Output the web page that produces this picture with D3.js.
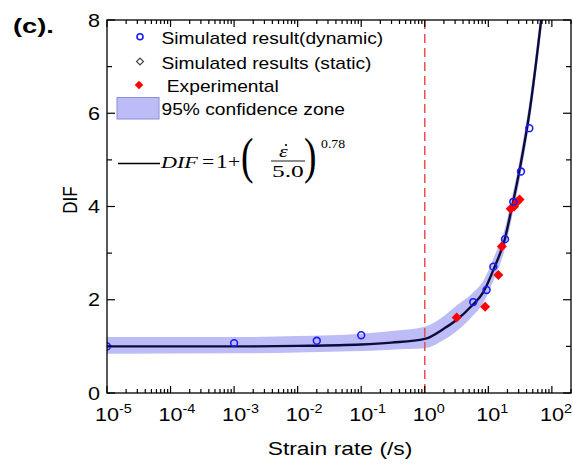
<!DOCTYPE html>
<html>
<head>
<meta charset="utf-8">
<script src="https://cdn.jsdelivr.net/npm/d3@7/dist/d3.min.js"></script>
<style>
body { margin: 0; background: white; }
</style>
</head>
<body>
<script>
// simulated, dynamic (blue open circles)
var dynRate = [1e-5, 1e-3, 0.02, 0.1, 5.8, 9.4, 12.0, 18.3, 24.7, 32.7, 44.2]
var dynDif  = [1.00, 1.07, 1.12, 1.24, 1.95, 2.21, 2.71, 3.30, 4.10, 4.75, 5.68]
// simulated, static - only in the legend, no marker shows in the plot
var statRate = []
var statDif  = []
// experimental (red diamonds)
var expRate = [3.18, 8.9, 14.4, 16.3, 22.5, 25.5, 28.5, 31.0]
var expDif  = [1.62, 1.85, 2.53, 3.14, 3.95, 4.00, 4.10, 4.15]
// fitted curve and 95% zone
var fitRate = [1e-5, 1e-3, 1e-2, 0.1, 0.3, 1, 2, 3.2, 5.4, 8.3, 12.6, 18, 23, 31, 45, 72]
var fitDif  = [1.00, 1.00, 1.01, 1.04, 1.08, 1.16, 1.38, 1.57, 1.86, 2.16, 2.71, 3.28, 3.92, 4.78, 6.07, 8.30]
var bandLo  = [0.84, 0.85, 0.87, 0.90, 0.93, 0.96, 1.14, 1.33, 1.62, 1.93, 2.48, 3.06, 3.70, 4.56, 5.85, 8.05]
var bandHi  = [1.20, 1.20, 1.22, 1.27, 1.33, 1.42, 1.65, 1.88, 2.12, 2.40, 2.95, 3.50, 4.14, 5.00, 6.30, 8.55]
var xTickExp = [-5, -4, -3, -2, -1, 0, 1, 2]
var yTicks = [0, 2, 4, 6, 8]
var yMinor = [1, 3, 5, 7]
var legendNames = ["Simulated result(dynamic)", "Simulated results (static)", " Experimental", "95% confidence zone"]

var lewo = 107, prawo = 571, gora = 20, dol = 393
var sans = "'Liberation Sans', Arial, sans-serif"
var serif = "'Liberation Serif', 'Times New Roman', serif"

var svg = d3.select("body").append("svg")
  .attr("width", 573)
  .attr("height", 466)

var x = d3.scaleLog().domain([1e-5, 200]).range([lewo, prawo])
var y = d3.scaleLinear().domain([0, 8]).range([dol, gora])

// text is a little wider than normal in the picture
function napis(parent, px, py, txt, size, sx, font) {
  return parent.append("text")
    .attr("transform", "translate(" + px + "," + py + ") scale(" + sx + ",1)")
    .style("font-size", size + "px")
    .style("font-family", font || sans)
    .style("fill", "black")
    .text(txt)
}

svg.append("clipPath").attr("id", "plot")
  .append("rect").attr("x", lewo).attr("y", gora).attr("width", prawo - lewo).attr("height", dol - gora)
var plot = svg.append("g").attr("clip-path", "url(#plot)")

var fit = fitRate.map(function(r, i) {
  return {r: r, d: fitDif[i], lo: bandLo[i], hi: bandHi[i]}
})

plot.append("path").datum(fit)
  .attr("d", d3.area()
    .x(function(d) { return x(d.r) })
    .y0(function(d) { return y(d.lo) })
    .y1(function(d) { return y(d.hi) })
    .curve(d3.curveMonotoneX))
  .style("fill", "#bcbcf6")

plot.append("path").datum(fit)
  .attr("d", d3.line()
    .x(function(d) { return x(d.r) })
    .y(function(d) { return y(d.d) })
    .curve(d3.curveMonotoneX))
  .style("fill", "none")
  .style("stroke", "#0c0c3c")
  .style("stroke-width", 2.4)

// 1 /s marker
plot.append("line")
  .attr("x1", x(1)).attr("x2", x(1))
  .attr("y1", y(8)).attr("y2", y(0))
  .style("stroke", "#f24b4b")
  .style("stroke-width", 1.5)
  .style("stroke-dasharray", "9,5")

var romb = d3.symbol(d3.symbolSquare, 50)

plot.append("g").selectAll("path")
  .data(expRate)
  .enter()
  .append("path")
  .attr("d", romb)
  .attr("transform", function(d, i) { return "translate(" + x(d) + "," + y(expDif[i]) + ") rotate(45)" })
  .style("fill", "#ff0000")

plot.append("g").selectAll("path")
  .data(statRate)
  .enter()
  .append("path")
  .attr("d", d3.symbol(d3.symbolSquare, 30))
  .attr("transform", function(d, i) { return "translate(" + x(d) + "," + y(statDif[i]) + ") rotate(45)" })
  .style("fill", "none")
  .style("stroke", "#444")

plot.append("g").selectAll("circle")
  .data(dynRate)
  .enter()
  .append("circle")
  .attr("cx", function(d) { return x(d) })
  .attr("cy", function(d, i) { return y(dynDif[i]) })
  .attr("r", 3.4)
  .style("fill", "none")
  .style("stroke", "#1a1aff")
  .style("stroke-width", 1.6)

// frame
svg.append("rect")
  .attr("x", lewo).attr("y", gora)
  .attr("width", prawo - lewo).attr("height", dol - gora)
  .style("fill", "none")
  .style("stroke", "black")
  .style("stroke-width", 1.3)

// ticks, inward on all four sides
var osie = svg.append("g").style("stroke", "black").style("stroke-width", 1.2)
var minorX = []
xTickExp.forEach(function(e) {
  for (var m = 2; m <= 9; m++) {
    var v = m * Math.pow(10, e)
    if (v <= 200) minorX.push(v)
  }
})
xTickExp.forEach(function(e) {
  var px = x(Math.pow(10, e))
  osie.append("line").attr("x1", px).attr("x2", px).attr("y1", dol).attr("y2", dol - 7)
  osie.append("line").attr("x1", px).attr("x2", px).attr("y1", gora).attr("y2", gora + 7)
})
minorX.forEach(function(v) {
  var px = x(v)
  osie.append("line").attr("x1", px).attr("x2", px).attr("y1", dol).attr("y2", dol - 4)
  osie.append("line").attr("x1", px).attr("x2", px).attr("y1", gora).attr("y2", gora + 4)
})
yTicks.forEach(function(v) {
  osie.append("line").attr("x1", lewo).attr("x2", lewo + 8).attr("y1", y(v)).attr("y2", y(v))
  osie.append("line").attr("x1", prawo).attr("x2", prawo - 8).attr("y1", y(v)).attr("y2", y(v))
})
yMinor.forEach(function(v) {
  osie.append("line").attr("x1", lewo).attr("x2", lewo + 5).attr("y1", y(v)).attr("y2", y(v))
  osie.append("line").attr("x1", prawo).attr("x2", prawo - 5).attr("y1", y(v)).attr("y2", y(v))
})

// tick labels
yTicks.forEach(function(v) {
  napis(svg, 100, y(v) + 6.5, v, 18, 1.2).style("text-anchor", "end")
})
xTickExp.forEach(function(e) {
  var t = napis(svg, x(Math.pow(10, e)), 421, "", 18, 1.2)
  t.append("tspan").attr("x", -10).text("10")
  t.append("tspan").attr("dy", -8).style("font-size", "12px").text(e)
})

// axis titles
napis(svg, 340, 455, "Strain rate (/s)", 18, 1.27).style("text-anchor", "middle")
svg.append("text")
  .attr("transform", "translate(77,200) scale(1.2,1) rotate(-90)")
  .style("font-size", "17px")
  .style("font-family", sans)
  .style("text-anchor", "middle")
  .text("DIF")
napis(svg, 13, 33, "(c).", 21, 1.3).style("font-weight", "bold")

// legend
var leg = svg.append("g")
leg.append("circle").attr("cx", 140).attr("cy", 36.7).attr("r", 3)
  .style("fill", "none").style("stroke", "#1a1aff").style("stroke-width", 1.6)
leg.append("path").attr("d", d3.symbol(d3.symbolSquare, 24))
  .attr("transform", "translate(140,61.5) rotate(45)")
  .style("fill", "none").style("stroke", "#444").style("stroke-width", 1.2)
leg.append("path").attr("d", d3.symbol(d3.symbolSquare, 36))
  .attr("transform", "translate(139,85) rotate(45)")
  .style("fill", "#ff0000")
leg.append("rect").attr("x", 117).attr("y", 97.5).attr("width", 42).attr("height", 21.5)
  .style("fill", "#bcbcf6").style("stroke", "#8c8cd8").style("stroke-width", 1)
var legY = [44, 68.5, 91.5, 115]
legendNames.forEach(function(n, i) {
  napis(leg, 161.5, legY[i], n, 16, 1.2).style("white-space", "pre")
})

// formula line
leg.append("line").attr("x1", 118).attr("x2", 160).attr("y1", 163.5).attr("y2", 163.5)
  .style("stroke", "black").style("stroke-width", 1.3)
napis(leg, 161, 168, "DIF", 17, 1.3, serif).style("font-style", "italic")
napis(leg, 202, 168, "=", 18, 1.2, serif)
napis(leg, 216, 168, "1", 18, 1.3, serif)
napis(leg, 228, 168, "+", 18, 1.2, serif)
napis(leg, 241, 173, "(", 50, 0.75, serif)
napis(leg, 304, 173, ")", 50, 0.75, serif)
napis(leg, 279, 157, "\u03b5", 17, 1.3, serif).style("font-style", "italic")
leg.append("circle").attr("cx", 286).attr("cy", 145).attr("r", 1.1).style("fill", "black")
leg.append("line").attr("x1", 271).attr("x2", 305).attr("y1", 161).attr("y2", 161)
  .style("stroke", "black").style("stroke-width", 0.9)
napis(leg, 272, 177, "5.0", 17, 1.5, serif)
napis(leg, 321, 148, "0.78", 12, 1.15, serif)
</script>
</body>
</html>
